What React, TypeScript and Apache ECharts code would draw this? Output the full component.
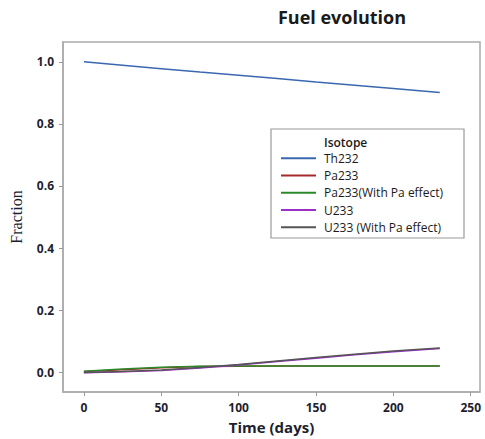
import React, { useEffect, useRef } from "react";
import * as echarts from "echarts";

const days = [0, 25, 50, 75, 100, 125, 150, 175, 200, 230];
const th232 = [1.0, 0.989, 0.978, 0.967, 0.957, 0.946, 0.935, 0.925, 0.914, 0.901];
const pa233 = [0.002, 0.008, 0.014, 0.018, 0.019, 0.02, 0.02, 0.02, 0.02, 0.02];
const pa233Eff = [0.003, 0.01, 0.016, 0.019, 0.02, 0.02, 0.02, 0.02, 0.02, 0.02];
const u233 = [-0.002, 0.001, 0.005, 0.013, 0.023, 0.034, 0.045, 0.056, 0.066, 0.076];
const u233Eff = [-0.001, 0.002, 0.007, 0.015, 0.025, 0.036, 0.047, 0.058, 0.068, 0.078];
const seriesNames = ["Th232", "Pa233", "Pa233(With Pa effect)", "U233", "U233 (With Pa effect)"];
const seriesColors = ["#3a68b0", "#a52a2a", "#2a8a2a", "#9b30c8", "#555555"];
const xTicks = [0, 50, 100, 150, 200, 250];
const yTicks = [0, 0.2, 0.4, 0.6, 0.8, 1.0];

export default function App() {
  const ref = useRef<HTMLDivElement>(null);
  useEffect(() => {
    if (!ref.current) return;
    const chart = echarts.init(ref.current, null, { renderer: "svg" });
    const all = [th232, pa233, pa233Eff, u233, u233Eff];
    const labelColor = "#1e1e2e";
    chart.setOption({
      animation: false,
      grid: {
        left: 61,
        top: 42,
        right: 5,
        bottom: 46,
        show: true,
        borderColor: "#aaaaaa",
        borderWidth: 1.5,
      },
      xAxis: {
        type: "value",
        min: -13.5,
        max: 256,
        name: "Time (days)",
        nameLocation: "middle",
        nameGap: 27,
        nameTextStyle: { fontFamily: "Open Sans", fontWeight: "bold", fontSize: 15, color: labelColor },
        splitLine: { show: false },
        axisLine: { show: true, onZero: false, lineStyle: { color: "#aaaaaa", width: 1.5 } },
        axisTick: { show: true, length: 4, customValues: xTicks, lineStyle: { color: "#999999" } },
        axisLabel: {
          customValues: xTicks,
          margin: 9,
          fontFamily: "Open Sans",
          fontWeight: "bold",
          fontSize: 12,
          color: labelColor,
        },
      },
      yAxis: {
        type: "value",
        min: -0.064,
        max: 1.064,
        name: "Fraction",
        nameLocation: "middle",
        nameGap: 39,
        nameTextStyle: { fontFamily: "Liberation Serif", fontSize: 16, color: labelColor },
        splitLine: { show: false },
        axisLine: { show: true, onZero: false, lineStyle: { color: "#aaaaaa", width: 1.5 } },
        axisTick: { show: true, length: 4, customValues: yTicks, lineStyle: { color: "#999999" } },
        axisLabel: {
          customValues: yTicks,
          margin: 9,
          fontFamily: "Open Sans",
          fontWeight: "bold",
          fontSize: 12,
          color: labelColor,
          formatter: (v: number) => v.toFixed(1),
        },
      },
      legend: {
        orient: "vertical",
        left: 281,
        top: 149.5,
        padding: 0,
        icon: "rect",
        itemWidth: 35,
        itemHeight: 2,
        itemGap: 0,
        data: seriesNames,
        textStyle: {
          fontFamily: "Open Sans",
          fontSize: 12,
          lineHeight: 17.3,
          color: "#1a1a1a",
          padding: [0, 0, 0, 3],
        },
      },
      graphic: [
        {
          type: "text",
          x: 342,
          y: 17,
          style: {
            text: "Fuel evolution",
            fontFamily: "Open Sans",
            fontWeight: "bold",
            fontSize: 18,
            fill: "#1a1a1a",
            textAlign: "center",
            textVerticalAlign: "middle",
          },
        },
        {
          type: "rect",
          shape: { x: 271, y: 129, width: 193, height: 109 },
          style: { fill: "none", stroke: "#9a9a9a", lineWidth: 1.2 },
          z: 100,
        },
        {
          type: "text",
          x: 324,
          y: 142,
          style: {
            text: "Isotope",
            fontFamily: "Open Sans",
            fontWeight: 600,
            fontSize: 12,
            fill: "#1a1a1a",
            textVerticalAlign: "middle",
          },
          z: 100,
        },
      ],
      series: seriesNames.map((name, i) => ({
        name,
        type: "line",
        symbol: "none",
        data: days.map((d, j) => [d, all[i][j]]),
        lineStyle: { color: seriesColors[i], width: 1.5 },
        itemStyle: { color: seriesColors[i] },
      })),
    });
    return () => chart.dispose();
  }, []);
  return <div ref={ref} style={{ width: 485, height: 439, position: "absolute", left: 0, top: 0 }} />;
}
